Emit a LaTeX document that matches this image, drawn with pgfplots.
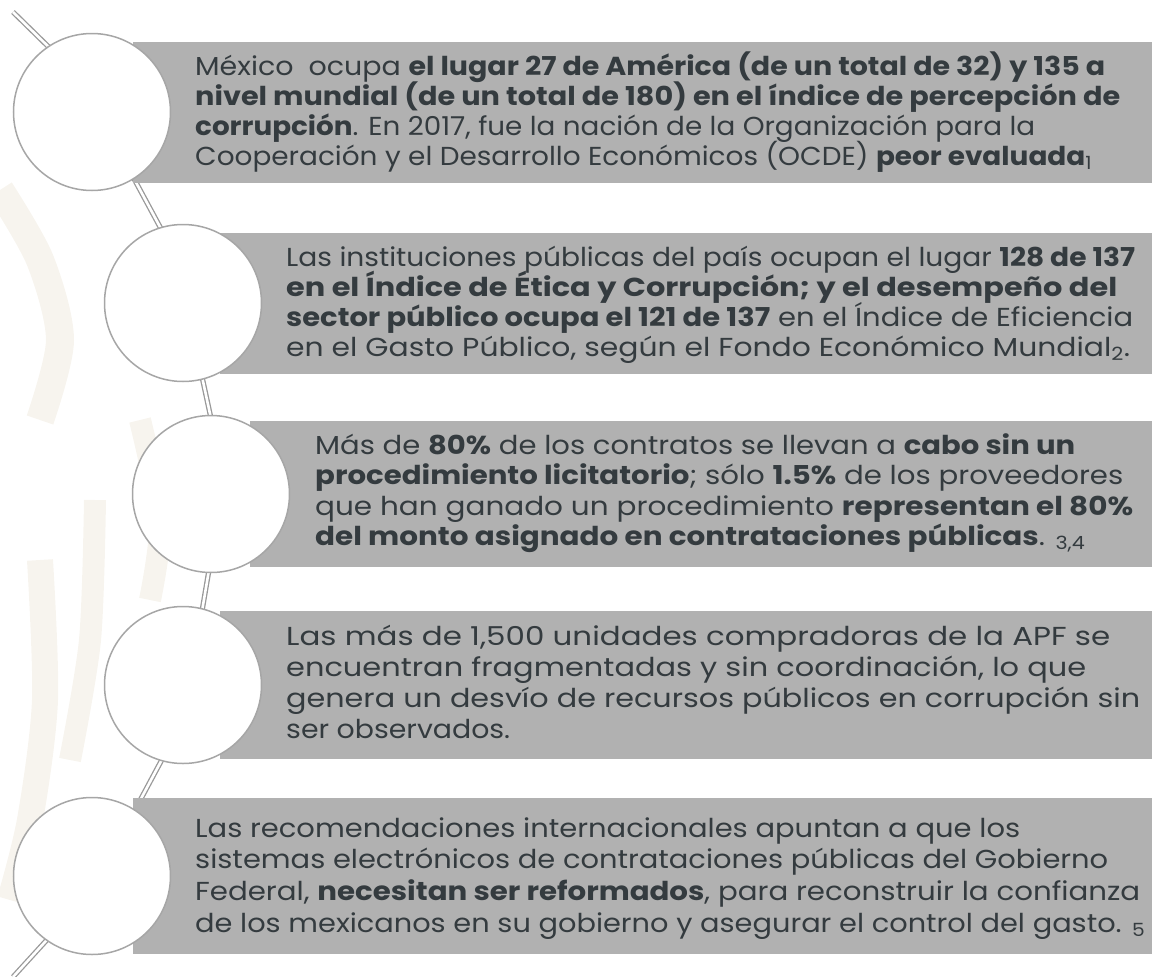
\documentclass[border=0pt]{standalone}
\usepackage{graphicx}
\usepackage{pgfplots}
\pgfplotsset{compat=1.18}
\usepackage{fontspec}
\setmainfont{Poppins}[FakeStretch=1.1]
\definecolor{boxgray}{HTML}{B1B1B1}
\definecolor{circgray}{HTML}{A6A6A6}
\definecolor{conngray}{HTML}{999999}
\definecolor{txtc}{HTML}{343B3F}
\definecolor{bgbeige}{HTML}{F7F4EE}
\newcommand\fs{\fontsize{26}{30}\selectfont}
\newcommand\tl[4]{\node[t] at (axis cs:#1,#2) {\resizebox{#3pt}{\height}{#4}};}
\begin{document}
\begin{tikzpicture}
\begin{axis}[width=1152pt,height=977pt,scale only axis,
  xmin=0,xmax=1152,ymin=0,ymax=977,y dir=reverse,hide axis]
\draw[draw=none] (axis cs:0,0) rectangle (axis cs:1152,977);
% faint background strokes
\addplot[bgbeige,line width=26pt,smooth] coordinates {(40,560) (45,700) (30,820) (10,900)};
\addplot[bgbeige,line width=22pt,smooth] coordinates {(95,500) (90,640) (70,760)};
\addplot[bgbeige,line width=28pt,smooth] coordinates {(0,190) (40,260) (60,340) (40,420)};
\addplot[bgbeige,line width=22pt,smooth] coordinates {(140,420) (160,520) (150,600)};
% connectors
\pgfplotsset{conn/.style={draw=conngray,line width=1.3pt,double=white,double distance=2.6pt}}
\addplot[conn] coordinates {(13,12) (60,58)};
\addplot[conn] coordinates {(132,175) (166,238)};
\addplot[conn] coordinates {(201,372) (212,423)};
\addplot[conn] coordinates {(210,564) (201,617)};
\addplot[conn] coordinates {(166,752) (136,808)};
\addplot[conn] coordinates {(55,931) (13,977)};
% boxes
\addplot[fill=boxgray,draw=none] coordinates {(133,42) (1152,42) (1152,183) (133,183)} -- cycle;
\addplot[fill=boxgray,draw=none] coordinates {(220,233) (1152,233) (1152,374) (220,374)} -- cycle;
\addplot[fill=boxgray,draw=none] coordinates {(250,421) (1152,421) (1152,567) (250,567)} -- cycle;
\addplot[fill=boxgray,draw=none] coordinates {(220,611) (1152,611) (1152,759) (220,759)} -- cycle;
\addplot[fill=boxgray,draw=none] coordinates {(133,798) (1152,798) (1152,954) (133,954)} -- cycle;
% circles
\draw[fill=white,draw=circgray,line width=1.5pt] (axis cs:92,112) circle[radius=78.5];
\draw[fill=white,draw=circgray,line width=1.5pt] (axis cs:183,303) circle[radius=78.5];
\draw[fill=white,draw=circgray,line width=1.5pt] (axis cs:211,494) circle[radius=78.5];
\draw[fill=white,draw=circgray,line width=1.5pt] (axis cs:183,685) circle[radius=78.5];
\draw[fill=white,draw=circgray,line width=1.5pt] (axis cs:92,876) circle[radius=78.5];
\tikzset{t/.style={anchor=base west,inner sep=0pt,text=txtc,font=\fs}}
% box 1
\tl{195}{75}{910}{México\ \ ocupa \textbf{el lugar 27 de América (de un total de 32) y 135 a}}
\tl{195}{105}{925}{\textbf{nivel mundial (de un total de 180) en el índice de percepción de}}
\tl{195}{135}{840}{\textbf{corrupción}. En 2017, fue la nación de la Organización para la}
\tl{195}{165}{897}{Cooperación y el Desarrollo Económicos (OCDE) \textbf{peor evaluada}\textsubscript{1}}
% box 2
\tl{286}{266}{849}{Las instituciones públicas del país ocupan el lugar \textbf{128 de 137}}
\tl{286}{296}{831}{\textbf{en el Índice de Ética y Corrupción; y el desempeño del}}
\tl{286}{326}{847}{\textbf{sector público ocupa el 121 de 137} en el Índice de Eficiencia}
\tl{286}{356}{844}{en el Gasto Público, según el Fondo Económico Mundial\textsubscript{2}.}
% box 3
\tl{315}{454}{760}{Más de \textbf{80\%} de los contratos se llevan a \textbf{cabo sin un}}
\tl{315}{484}{808}{\textbf{procedimiento licitatorio}; sólo \textbf{1.5\%} de los proveedores}
\tl{315}{515}{818}{que han ganado un procedimiento \textbf{representan el 80\%}}
\tl{315}{545}{770}{\textbf{del monto asignado en contrataciones públicas}. \textsubscript{3,4}}
% box 4
\tl{286}{645}{824}{Las más de 1,500 unidades compradoras de la APF se}
\tl{286}{676}{800}{encuentran fragmentadas y sin coordinación, lo que}
\tl{286}{707}{854}{genera un desvío de recursos públicos en corrupción sin}
\tl{286}{738}{224}{ser observados.}
% box 5
\tl{195}{837}{825}{Las recomendaciones internacionales apuntan a que los}
\tl{195}{868}{913}{sistemas electrónicos de contrataciones públicas del Gobierno}
\tl{195}{900}{945}{Federal, \textbf{necesitan ser reformados}, para reconstruir la confianza}
\tl{195}{932}{950}{de los mexicanos en su gobierno y asegurar el control del gasto. \textsubscript{5}}
\end{axis}
\end{tikzpicture}
\end{document}
